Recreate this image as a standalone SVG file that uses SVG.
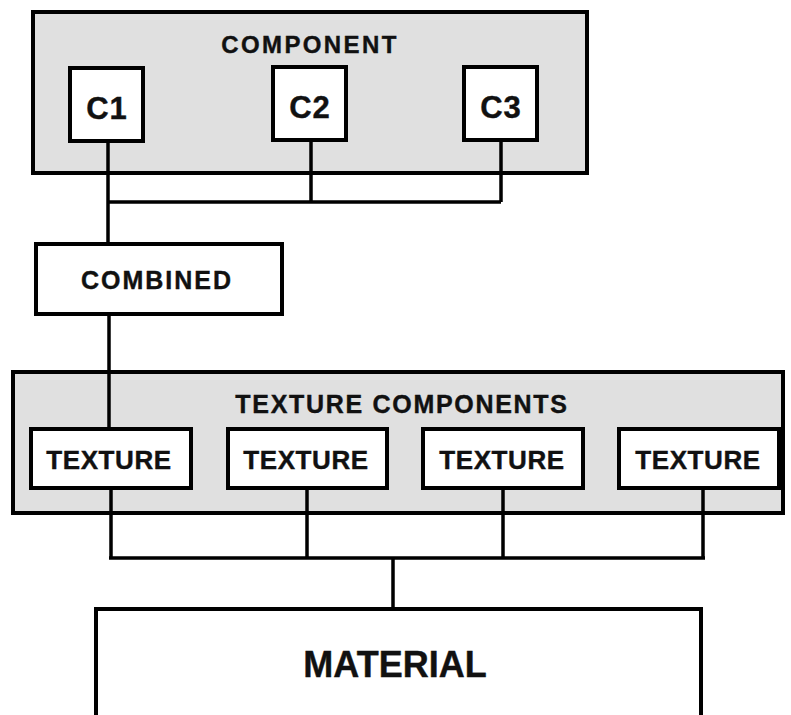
<svg xmlns="http://www.w3.org/2000/svg" width="791" height="715" viewBox="0 0 791 715">
<style>
.grp{fill:#e0e0e0;stroke:#000;stroke-width:4}
.box{fill:#fff;stroke:#000;stroke-width:4}
.t{font-family:"Liberation Sans",Arial,sans-serif;font-weight:bold;fill:#111;stroke:#111;stroke-width:0.4;text-anchor:middle}
.ln{fill:none;stroke:#000;stroke-width:3.5}
</style>
<rect width="791" height="715" fill="#fff"/>
<g id="component">
<rect class="grp" x="33" y="12" width="554" height="161"/>
<text class="t" x="310" y="53" font-size="24" letter-spacing="2.4">COMPONENT</text>
</g>
<g id="texture-components">
<rect class="grp" x="13" y="372" width="770" height="141"/>
<text class="t" x="402" y="413" font-size="25" letter-spacing="1.7">TEXTURE COMPONENTS</text>
</g>
<g id="connectors">
<path class="ln" d="M108 142V244M311 141V202M501 141V202M108 202H501"/>
<path class="ln" d="M109 314V429"/>
<path class="ln" d="M111 488V558M307 488V558M503 488V558M703 488V558M109 558H705M393 558V609"/>
</g>
<g id="c1">
<rect class="box" x="70" y="68" width="73" height="73"/>
<text class="t" x="107" y="119" font-size="31" letter-spacing="1">C1</text>
</g>
<g id="c2">
<rect class="box" x="273" y="67" width="73" height="73"/>
<text class="t" x="310" y="118" font-size="31" letter-spacing="1">C2</text>
</g>
<g id="c3">
<rect class="box" x="464" y="67" width="73" height="73"/>
<text class="t" x="501" y="118" font-size="31" letter-spacing="1">C3</text>
</g>
<g id="combined">
<rect class="box" x="36" y="244" width="246" height="70"/>
<text class="t" x="157" y="289" font-size="25" letter-spacing="2">COMBINED</text>
</g>
<g id="texture1">
<rect class="box" x="31" y="429" width="160" height="59"/>
<text class="t" x="109" y="469" font-size="26" letter-spacing="0.6">TEXTURE</text>
</g>
<g id="texture2">
<rect class="box" x="228" y="429" width="159" height="59"/>
<text class="t" x="306" y="469" font-size="26" letter-spacing="0.6">TEXTURE</text>
</g>
<g id="texture3">
<rect class="box" x="423" y="429" width="160" height="59"/>
<text class="t" x="502" y="469" font-size="26" letter-spacing="0.6">TEXTURE</text>
</g>
<g id="texture4">
<rect class="box" x="619" y="429" width="160" height="59"/>
<text class="t" x="698" y="469" font-size="26" letter-spacing="0.6">TEXTURE</text>
</g>
<g id="material">
<rect class="box" x="96" y="609" width="605" height="130"/>
<text class="t" x="395" y="677" font-size="36">MATERIAL</text>
</g>
</svg>
